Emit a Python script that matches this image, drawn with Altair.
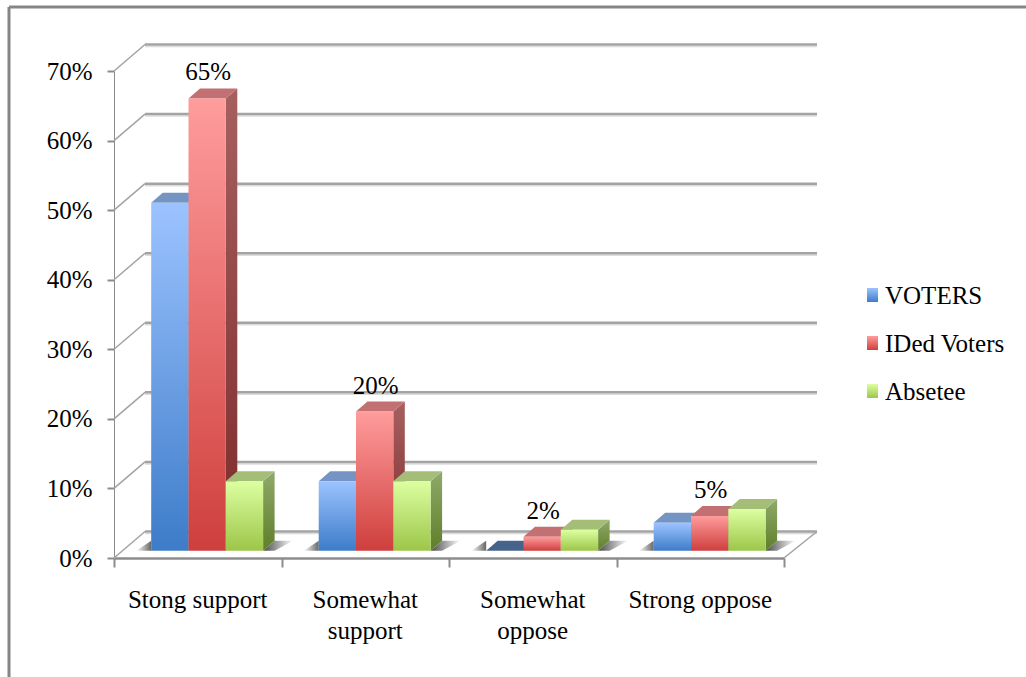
import altair as alt
import pandas as pd

# Survey results, in percent
categories = ["Stong support", "Somewhat\nsupport", "Somewhat\noppose", "Strong oppose"]
series_names = ["VOTERS", "IDed Voters", "Absetee"]
voters = [50, 10, 0, 4]
ided_voters = [65, 20, 2, 5]
absetee = [10, 10, 3, 6]
y_ticks = [0, 10, 20, 30, 40, 50, 60, 70]
x_ticks = [0, 1, 2, 3, 4]
series_values = [voters, ided_voters, absetee]

# Canvas layout: the plot area is the front plane of the 3D box
LEFT, TOP, W, H = 114, 71, 670, 487
CANVAS_W, CANVAS_H = 1026, 677
PX_X = W / 4          # pixels per category
PX_Y = H / 70         # pixels per percentage point
FONT = "Liberation Serif"
TEXT_SIZE = 25

# Depth of the box and of the bars, expressed in scale units
WALL_DX, WALL_DY = 31 / PX_X, 26.5 / PX_Y
WALL_END = 4 + 33 / PX_X
BAR_DX, BAR_DY = 11.5 / PX_X, 10 / PX_Y
LIFT = 7.3 / PX_Y      # bars stand a little behind the front edge of the floor
GAP = 37.2 / PX_X      # first bar's distance from the category's left tick
BAR_W = 37.3 / PX_X

GRID = "#A3A3A3"
GRID_SOFT = "#DCDCDC"
AXIS = "#8C8C8C"

styles = [
    dict(front=("#9CC3FF", "#3D7CC9"), side=("#7F9CC6", "#34608F"), top="#7495C3", flat="#46638C"),
    dict(front=("#FF9C9C", "#CE3F3D"), side=("#A66060", "#7E2A2A"), top="#C27072", flat="#C27072"),
    dict(front=("#DDFFA1", "#9CC649"), side=("#90A96A", "#5F7F2A"), top="#A4BE78", flat="#A4BE78"),
]

sx = alt.Scale(domain=[0, 4], range=[0, W], nice=False, zero=False)
sy = alt.Scale(domain=[0, 70], range=[H, 0], nice=False, zero=False)

# The same axes are declared on every layer so that they merge into one pair
x_axis = alt.Axis(
    values=x_ticks, labels=False, grid=False, domainColor=AXIS, domainWidth=2.5,
    tickColor=AXIS, tickWidth=2, tickSize=9,
)
y_axis = alt.Axis(
    values=y_ticks, labelExpr="datum.value + '%'", grid=False, domainColor=AXIS,
    domainWidth=1, tickColor=AXIS, tickWidth=2, tickSize=7, labelPadding=15,
    labelFont=FONT, labelFontSize=TEXT_SIZE, labelColor="#000000",
)


def gradient(c0, c1, horizontal=False):
    return alt.LinearGradient(
        gradient="linear",
        stops=[alt.GradientStop(color=c0, offset=0), alt.GradientStop(color=c1, offset=1)],
        x1=0, y1=0, x2=1 if horizontal else 0, y2=0 if horizontal else 1,
    )


def X(field="x"):
    return alt.X(f"{field}:Q", scale=sx, title="", axis=x_axis)


def Y(field="y"):
    return alt.Y(f"{field}:Q", scale=sy, title="", axis=y_axis)


def lines(rows, width, color):
    """Straight segments, one per value of `k`."""
    return alt.Chart(pd.DataFrame(rows)).mark_line(
        color=color, strokeWidth=width, clip=False
    ).encode(X(), Y(), detail="k:N")


def area(rows, **mark):
    return alt.Chart(pd.DataFrame(rows)).mark_area(orient="vertical", clip=False, **mark).encode(
        X(), Y(), alt.Y2("y2:Q"), detail="k:N"
    )


# Side wall diagonals and back wall gridlines, each gridline with a pale edge beneath it
diagonals = lines(
    [r for t in y_ticks for r in ({"k": t, "x": 0, "y": t}, {"k": t, "x": WALL_DX, "y": t + WALL_DY})],
    1.5, GRID,
)
grid_edge = lines(
    [r for t in y_ticks for r in (
        {"k": t, "x": WALL_DX, "y": t + WALL_DY - 2 / PX_Y},
        {"k": t, "x": WALL_END, "y": t + WALL_DY - 2 / PX_Y},
    )],
    1.5, GRID_SOFT,
)
back_grid = lines(
    [r for t in y_ticks for r in ({"k": t, "x": WALL_DX, "y": t + WALL_DY}, {"k": t, "x": WALL_END, "y": t + WALL_DY})],
    2.5, GRID,
)
floor_edge = lines([{"k": 0, "x": 4, "y": 0}, {"k": 0, "x": WALL_END, "y": WALL_DY}], 1.5, GRID)

# Soft floor shadows on either side of each cluster
left_rows, right_rows = [], []
for i in range(len(categories)):
    x0 = i + GAP
    x1 = x0 + 3 * BAR_W
    left_rows += [
        {"k": i, "x": x0 - 15 / PX_X, "y": LIFT, "y2": LIFT},
        {"k": i, "x": x0, "y": LIFT + BAR_DY, "y2": LIFT},
    ]
    right_rows += [
        {"k": i, "x": x1, "y": LIFT, "y2": LIFT},
        {"k": i, "x": x1 + BAR_DX, "y": LIFT + BAR_DY, "y2": LIFT},
        {"k": i, "x": x1 + 30 / PX_X, "y": LIFT + BAR_DY, "y2": LIFT + BAR_DY},
    ]
shadow_left = area(left_rows, fill=gradient("#FFFFFF", "#666666", horizontal=True))
shadow_right = area(right_rows, fill=gradient("#4A4A4A", "#FFFFFF", horizontal=True))

layers = [diagonals, grid_edge, back_grid, floor_edge, shadow_left, shadow_right]

# Each bar: side face, top face, front face, painted from left to right
for j, (values, st) in enumerate(zip(series_values, styles)):
    side_rows, top_rows, front_rows = [], [], []
    for i, v in enumerate(values):
        x0 = i + GAP + j * BAR_W
        x1 = x0 + BAR_W
        base = LIFT
        t = v + LIFT
        side_rows += [
            {"k": i, "x": x1, "y": t, "y2": base},
            {"k": i, "x": x1 + BAR_DX, "y": t + BAR_DY, "y2": base + BAR_DY},
        ]
        top_rows += [
            {"k": i, "pct": v, "x": x0, "y": t, "y2": t},
            {"k": i, "pct": v, "x": x0 + BAR_DX, "y": t + BAR_DY, "y2": t},
            {"k": i, "pct": v, "x": x1, "y": t + BAR_DY, "y2": t},
            {"k": i, "pct": v, "x": x1 + BAR_DX, "y": t + BAR_DY, "y2": t + BAR_DY},
        ]
        if v > 0:
            front_rows.append({"x": x0, "x2": x1, "y": t, "y2": base})
    layers.append(area(side_rows, fill=gradient(*st["side"])))
    layers.append(area(top_rows).encode(
        color=alt.condition("datum.pct === 0", alt.value(st["flat"]), alt.value(st["top"]))
    ))
    layers.append(
        alt.Chart(pd.DataFrame(front_rows)).mark_rect(fill=gradient(*st["front"]), clip=False).encode(
            X(), alt.X2("x2:Q"), Y(), alt.Y2("y2:Q")
        )
    )

# Value labels above the second series
label_rows = pd.DataFrame({
    "x": [i + GAP + 1.5 * BAR_W + 1 / PX_X for i in range(len(ided_voters))],
    "y": [v + LIFT for v in ided_voters],
    "label": [f"{v}%" for v in ided_voters],
})
layers.append(
    alt.Chart(label_rows).mark_text(
        font=FONT, fontSize=TEXT_SIZE, color="#000000", dy=-26, baseline="middle", clip=False
    ).encode(X(), Y(), text="label:N")
)

# Category labels
cat_rows = pd.DataFrame({"x": [i + 0.5 for i in range(len(categories))], "label": categories})
layers.append(
    alt.Chart(cat_rows).mark_text(
        font=FONT, fontSize=TEXT_SIZE, color="#000000", baseline="top",
        lineBreak="\n", lineHeight=31, clip=False
    ).encode(X(), y=alt.value(588 - TOP), text="label:N")
)

# Legend, drawn as swatches beside the plot
for name, st, cy in zip(series_names, styles, [295, 343, 391]):
    row = pd.DataFrame({"label": [name]})
    layers.append(
        alt.Chart(row).mark_rect(fill=gradient(*st["front"]), clip=False).encode(
            x=alt.value(867 - LEFT), x2=alt.value(878 - LEFT),
            y=alt.value(cy - 7 - TOP), y2=alt.value(cy + 7 - TOP),
        )
    )
    layers.append(
        alt.Chart(row).mark_text(
            font=FONT, fontSize=TEXT_SIZE, color="#000000", align="left", baseline="middle", clip=False
        ).encode(x=alt.value(885 - LEFT), y=alt.value(cy + 1 - TOP), text="label:N")
    )

# Outer frame of the chart: only its top and left edges fall inside the canvas
frame_color = "#868686"
frame_row = pd.DataFrame({"k": [0]})
layers.append(
    alt.Chart(frame_row).mark_rule(color=frame_color, strokeWidth=3, clip=False).encode(
        x=alt.value(9 - LEFT), y=alt.value(7 - TOP), y2=alt.value(CANVAS_H - TOP)
    )
)
layers.append(
    alt.Chart(frame_row).mark_rule(color=frame_color, strokeWidth=3, clip=False).encode(
        x=alt.value(9 - LEFT), x2=alt.value(CANVAS_W - LEFT), y=alt.value(7 - TOP)
    )
)

chart = alt.layer(*layers).properties(
    width=W,
    height=H,
    background="#FFFFFF",
    padding={"left": LEFT, "top": TOP, "right": CANVAS_W - LEFT - W, "bottom": CANVAS_H - TOP - H},
    autosize=alt.AutoSizeParams(type="none"),
).configure_view(strokeWidth=0)

chart.save("out.html", embed_options={"renderer": "svg", "actions": False})
